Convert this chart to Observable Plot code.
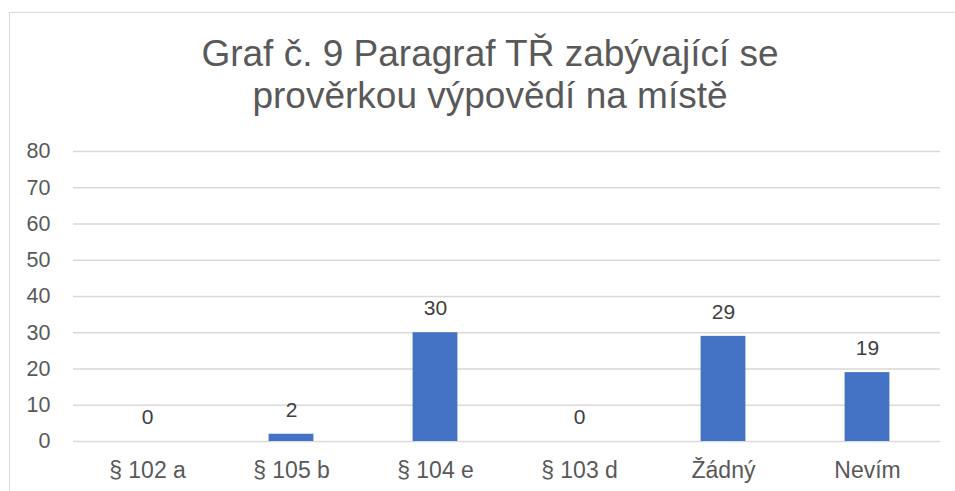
<!DOCTYPE html>
<html>
<head>
<meta charset="utf-8">
<script src="https://cdn.jsdelivr.net/npm/d3@7"></script>
<script src="https://cdn.jsdelivr.net/npm/@observablehq/plot@0.6"></script>
<style>
  html, body { margin: 0; padding: 0; background: #fff; }
  #wrap { position: relative; width: 955px; height: 491px; overflow: hidden; font-family: "Liberation Sans", Arial, sans-serif; }
  #frame { position: absolute; left: 9px; top: 12px; width: 1200px; height: 1000px; border: 1px solid #D9D9D9; box-sizing: border-box; }
  #title { position: absolute; left: 90px; top: 33.1px; width: 800px; text-align: center; font-size: 37px; line-height: 41.6px; color: #595959; white-space: nowrap; }
  #chart { position: absolute; left: 0; top: 0; }
</style>
</head>
<body>
<div id="wrap">
  <div id="frame"></div>
  <div id="chart"></div>
  <div id="title">Graf č. 9 Paragraf TŘ zabývající se<br>prověrkou výpovědí na místě</div>
</div>
<script>
const categories = ["§ 102 a", "§ 105 b", "§ 104 e", "§ 103 d", "Žádný", "Nevím"];
const values = [0, 2, 30, 0, 29, 19];
const yTicks = [0, 10, 20, 30, 40, 50, 60, 70, 80];

const data = categories.map((c, i) => ({category: c, value: values[i]}));

const chart = Plot.plot({
  width: 955,
  height: 491,
  marginLeft: 73,
  marginRight: 15,
  marginTop: 151,
  marginBottom: 50,
  style: {fontFamily: '"Liberation Sans", Arial, sans-serif', background: "transparent"},
  x: {domain: categories, padding: 0},
  y: {domain: [0, 80]},
  marks: [
    Plot.ruleY(yTicks, {stroke: "#D9D9D9", strokeWidth: 1.5}),
    Plot.barY(data, {x: "category", y: "value", fill: "#4472C4", insetLeft: 49.6, insetRight: 49.6}),
    Plot.text(data, {x: "category", y: "value", text: d => String(d.value), dy: -24, fontSize: 21, fill: "#404040"}),
    Plot.axisY({ticks: yTicks, tickSize: 0, tickPadding: 23, fontSize: 21.5, color: "#595959", label: null, tickFormat: d => String(d)}),
    Plot.axisX({tickSize: 0, tickPadding: 20, fontSize: 23, color: "#595959", label: null})
  ]
});
document.getElementById("chart").appendChild(chart);
</script>
</body>
</html>
